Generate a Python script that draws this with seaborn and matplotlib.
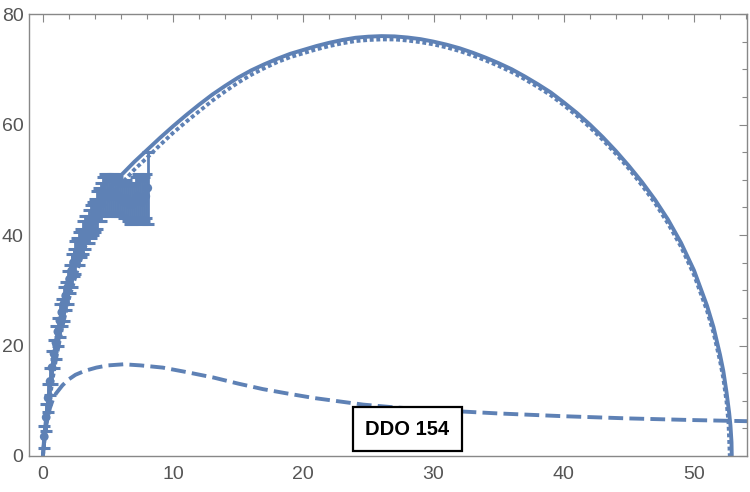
import matplotlib
matplotlib.use("Agg")
import matplotlib.pyplot as plt
from matplotlib.ticker import MultipleLocator
import seaborn as sns

sns.set_style("white")
plt.rcParams['font.family'] = ['Liberation Sans', 'DejaVu Sans']

# observed rotation curve (radius, velocity, error)
r_obs = [0.1, 0.25, 0.4, 0.55, 0.7, 0.85, 1.0, 1.15, 1.3, 1.45, 1.6, 1.75, 1.9,
         2.05, 2.2, 2.35, 2.5, 2.65, 2.8, 2.95, 3.1, 3.25, 3.4, 3.55, 3.7, 3.85,
         4.0, 4.15, 4.3, 4.45, 4.6, 4.75, 4.9, 5.05, 5.2, 5.35, 5.5, 5.65, 5.8,
         5.95, 6.1, 6.25, 6.4, 6.55, 6.7, 6.85, 7.0, 7.15, 7.3, 7.45, 7.6, 7.75,
         7.9, 8.05]
v_obs = [3.5, 7, 10.5, 13.5, 16, 18.5, 20.5, 22.5, 24.5, 26, 27.5, 29, 30.5,
         32, 33.5, 35, 36, 37, 37.5, 38.5, 39.5, 40.5, 41, 41.5, 42.5, 43,
         43.5, 44.5, 45.5, 46, 47, 47.5, 47.5, 47, 47, 47.5, 47.5, 47, 47,
         46.5, 46.5, 46, 46.5, 46, 45.5, 45.5, 46, 46.5, 47, 46.5, 46, 46.5,
         47, 48.5]
e_obs = [2.0, 2.5, 2.5, 2.5, 3.0, 2.5, 3.0, 2.5, 3.0, 2.5, 3.0, 2.5, 3.0,
         2.5, 3.0, 2.5, 3.0, 2.5, 3.0, 2.5, 3.0, 3.0, 2.5, 3.0, 3.0, 3.0,
         3.0, 3.5, 3.0, 3.5, 3.5, 3.5, 3.5, 3.5, 3.0, 3.5, 3.5, 3.5, 3.0,
         3.0, 3.0, 3.0, 3.5, 3.5, 3.5, 3.5, 3.5, 4.0, 4.0, 4.0, 4.0, 4.0,
         4.0, 6.5]

# total model (solid)
x_total = [0, 0.1, 0.25, 0.5, 0.75, 1, 1.5, 2, 2.5, 3, 3.5, 4, 4.5, 5, 5.5,
           6, 7, 8, 9, 10, 11, 12, 13, 14, 15, 16, 17, 18, 19, 20, 21, 22, 23,
           24, 25, 26, 27, 28, 29, 30, 31, 32, 33, 34, 35, 36, 37, 38, 39, 40,
           41, 42, 43, 44, 45, 46, 47, 48, 49, 50, 51, 51.5, 52, 52.25, 52.5,
           52.7, 52.8, 52.88, 52.9]
v_total = [0, 3.5, 7, 12, 16.5, 20, 26, 31, 35, 38.5, 41.5, 44, 46.2, 48, 49.5,
           50.8, 53.2, 55.4, 57.6, 59.7, 61.7, 63.6, 65.4, 67.0, 68.5, 69.8, 70.9,
           71.9, 72.8, 73.5, 74.2, 74.8, 75.3, 75.7, 75.9, 76.0, 75.95, 75.75,
           75.45, 75.0, 74.45, 73.8, 73.0, 72.1, 71.1, 70.0, 68.7, 67.3, 65.8,
           64.0, 62.1, 60.0, 57.7, 55.2, 52.5, 49.6, 46.4, 42.8, 38.6, 33.6, 27.2,
           23.3, 18.3, 15.4, 11.5, 7.8, 5.5, 2.5, 0]

# dark component (dotted)
x_dot = [0, 0.1, 0.25, 0.5, 0.75, 1, 1.5, 2, 2.5, 3, 3.5, 4, 4.5, 5, 5.5,
         6, 7, 8, 9, 10, 11, 12, 13, 14, 15, 16, 17, 18, 19, 20, 21, 22, 23,
         24, 25, 26, 27, 28, 29, 30, 31, 32, 33, 34, 35, 36, 37, 38, 39, 40,
         41, 42, 43, 44, 45, 46, 47, 48, 49, 50, 51, 51.5, 52, 52.25, 52.5,
         52.65, 52.75]
v_dot = [0, 2.5, 5.5, 10, 14, 17.5, 23.5, 28.5, 32.5, 36.3, 39.5, 42.2, 44.5,
         46.3, 47.9, 49.2, 51.8, 54.0, 56.3, 58.5, 60.5, 62.4, 64.3, 66.0, 67.6,
         69.0, 70.2, 71.3, 72.2, 72.9, 73.6, 74.2, 74.7, 75.1, 75.3, 75.4, 75.4,
         75.2, 74.9, 74.5, 73.95, 73.3, 72.5, 71.6, 70.6, 69.5, 68.2, 66.8, 65.3,
         63.5, 61.6, 59.5, 57.2, 54.7, 52.0, 49.0, 45.8, 42.1, 37.9, 32.8, 26.3,
         22.3, 17.2, 14.1, 9.8, 6.0, 0]

# baryonic component (dashed)
x_dash = [0, 0.05, 0.15, 0.3, 0.54, 0.75, 1.0, 1.5, 2.0, 2.5, 3.2, 4.1, 5.0,
          6.2, 7.5, 9.2, 11.0, 13.1, 15.0, 16.9, 18.8, 20.8, 22.7, 24.6, 27.0,
          29.0, 31.0, 35.0, 40.0, 45.0, 50.0, 54.1]
v_dash = [0, 1.5, 3.8, 6.2, 8.7, 10.1, 11.3, 12.8, 13.9, 14.7, 15.4, 16.0, 16.4,
          16.6, 16.4, 16.0, 15.2, 14.2, 13.1, 12.1, 11.3, 10.5, 9.9, 9.3, 8.8,
          8.5, 8.2, 7.7, 7.2, 6.8, 6.5, 6.3]

label = "DDO 154"
blue = "#5E81B5"

fig = plt.figure(figsize=(7.5, 4.92), dpi=100)
ax = fig.add_axes([29 / 750, 36 / 492, 718 / 750, 442 / 492])

sns.lineplot(x=x_total, y=v_total, ax=ax, color=blue, lw=2.8,
             sort=False, estimator=None)
sns.lineplot(x=x_dot, y=v_dot, ax=ax, color=blue, lw=2.8,
             linestyle=(0, (1, 0.7)), sort=False, estimator=None)
sns.lineplot(x=x_dash, y=v_dash, ax=ax, color=blue, lw=2.8,
             linestyle=(0, (3.8, 1.6)), sort=False, estimator=None)

ax.errorbar(r_obs, v_obs, yerr=e_obs, fmt='none', ecolor=blue,
            elinewidth=2.0, capsize=4.5, capthick=2.2, zorder=3)
sns.scatterplot(x=r_obs, y=v_obs, ax=ax, color=blue, s=40,
                edgecolor='none', zorder=4)

ax.text(28.0, 4.8, label, ha='center', va='center', fontsize=14.5,
        fontweight='bold', color='black',
        bbox=dict(boxstyle='square,pad=0.62', fc='white', ec='black', lw=1.6))

ax.set_xlim(-1.07, 54.07)
ax.set_ylim(0, 80)
ax.xaxis.set_major_locator(MultipleLocator(10))
ax.xaxis.set_minor_locator(MultipleLocator(2))
ax.yaxis.set_major_locator(MultipleLocator(20))
ax.yaxis.set_minor_locator(MultipleLocator(5))

ax.tick_params(which='both', direction='in', top=True, right=True,
               color='#888888', width=0.8, labelcolor='#555555', labelsize=14)
ax.tick_params(which='major', length=5.5)
ax.tick_params(which='minor', length=3.5)
ax.tick_params(axis='x', pad=7)
ax.tick_params(axis='y', pad=4)
for sp in ax.spines.values():
    sp.set_color('#888888')
    sp.set_linewidth(1)
    sp.set_visible(True)

fig.savefig('out.png', dpi=100)
